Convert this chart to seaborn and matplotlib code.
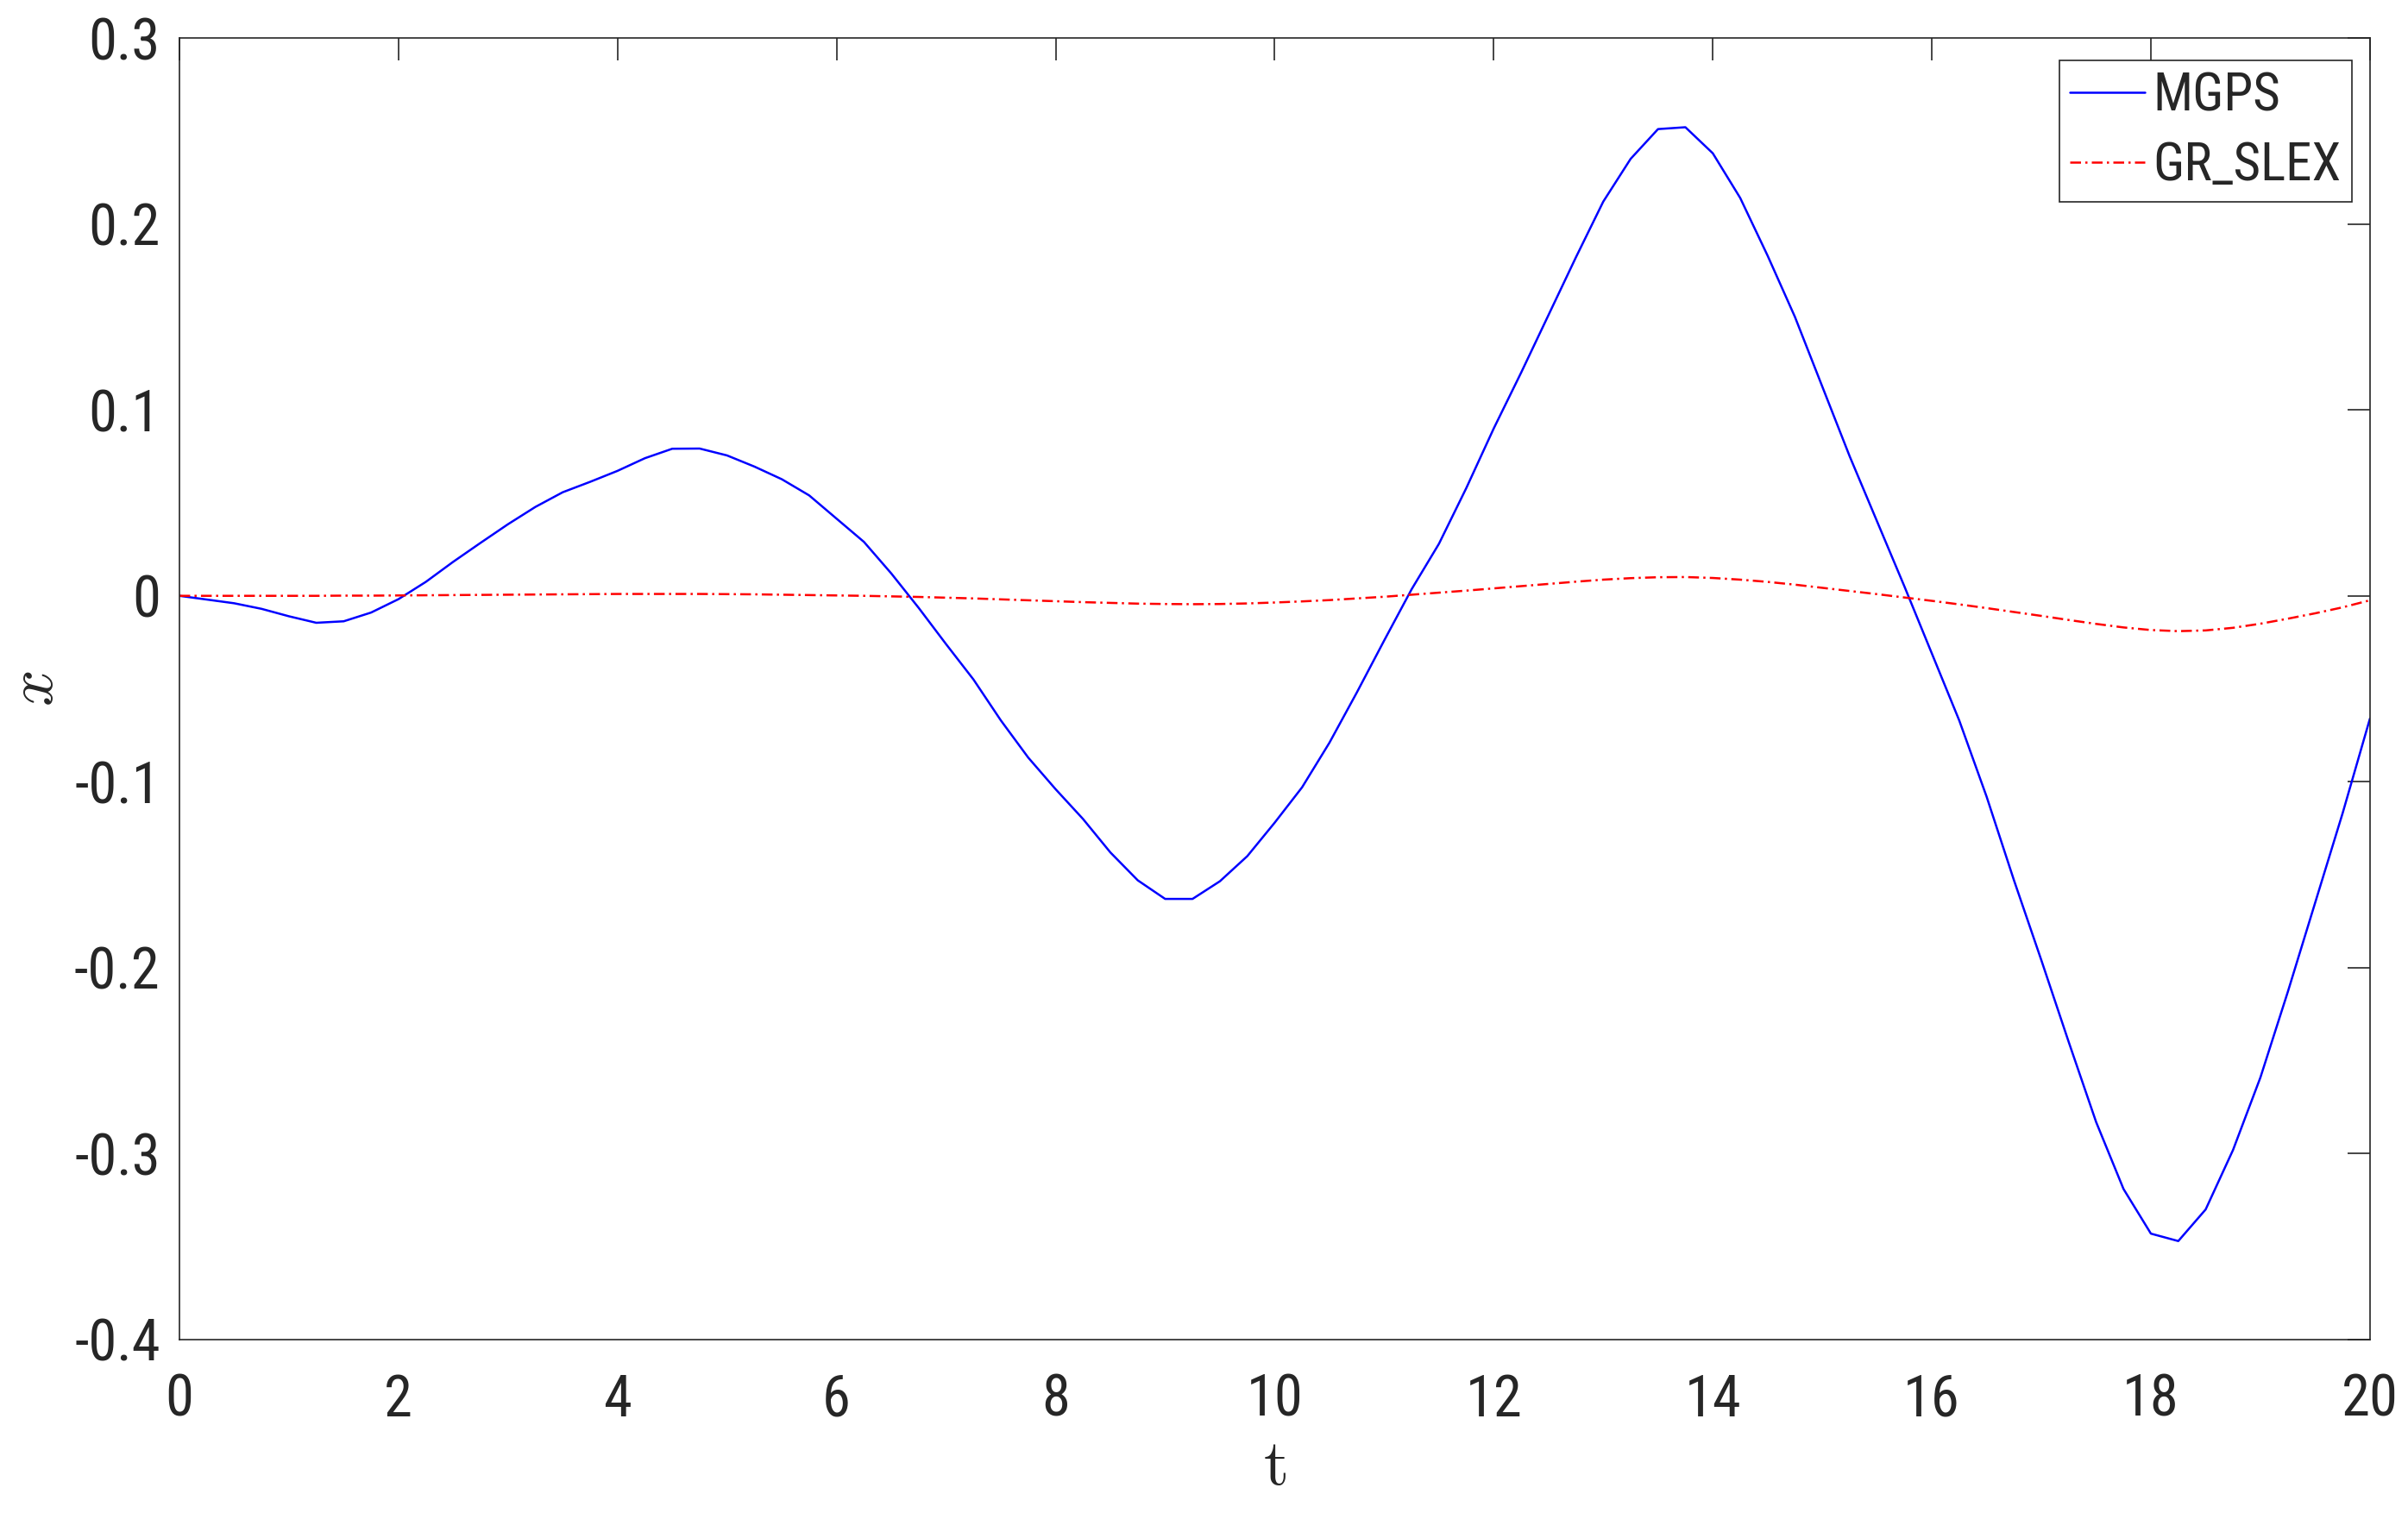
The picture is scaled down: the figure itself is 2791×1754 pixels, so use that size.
import numpy as np
import pandas as pd
import matplotlib
matplotlib.use("Agg")
import matplotlib.pyplot as plt
import seaborn as sns

# time samples (step 0.25)
t = [0.00, 0.25, 0.50, 0.75, 1.00, 1.25, 1.50, 1.75, 2.00, 2.25,
     2.50, 2.75, 3.00, 3.25, 3.50, 3.75, 4.00, 4.25, 4.50, 4.75,
     5.00, 5.25, 5.50, 5.75, 6.00, 6.25, 6.50, 6.75, 7.00, 7.25,
     7.50, 7.75, 8.00, 8.25, 8.50, 8.75, 9.00, 9.25, 9.50, 9.75,
     10.00, 10.25, 10.50, 10.75, 11.00, 11.25, 11.50, 11.75, 12.00, 12.25,
     12.50, 12.75, 13.00, 13.25, 13.50, 13.75, 14.00, 14.25, 14.50, 14.75,
     15.00, 15.25, 15.50, 15.75, 16.00, 16.25, 16.50, 16.75, 17.00, 17.25,
     17.50, 17.75, 18.00, 18.25, 18.50, 18.75, 19.00, 19.25, 19.50, 19.75,
     20.00]

mgps = [0.000, -0.002, -0.004, -0.007, -0.011, -0.0145, -0.0137, -0.009, -0.0018, 0.0075,
        0.0183, 0.0285, 0.0385, 0.0478, 0.0557, 0.0613, 0.0672, 0.0740, 0.0791, 0.0792,
        0.0755, 0.0695, 0.0627, 0.0540, 0.0415, 0.0290, 0.0120, -0.0065, -0.0260, -0.0450,
        -0.0670, -0.0870, -0.1040, -0.1200, -0.1380, -0.1530, -0.1630, -0.1630, -0.1535, -0.1400,
        -0.1220, -0.1030, -0.0790, -0.0520, -0.0240, 0.0035, 0.0280, 0.0580, 0.0900, 0.1200,
        0.1510, 0.1820, 0.2120, 0.2350, 0.2510, 0.2520, 0.2380, 0.2140, 0.1830, 0.1500,
        0.1125, 0.0750, 0.0400, 0.0050, -0.0310, -0.0670, -0.1080, -0.1530, -0.1960, -0.2400,
        -0.2830, -0.3190, -0.3430, -0.3470, -0.3300, -0.2980, -0.2590, -0.2130, -0.1650, -0.1170,
        -0.0660]

gr_slex = [0.0, 0.0, 0.0, 0.0, 0.0, 0.0, 0.0001, 0.0001, 0.0002, 0.0003,
           0.0004, 0.0005, 0.0006, 0.0007, 0.0008, 0.0009, 0.0010, 0.0010, 0.0010, 0.0010,
           0.0009, 0.0008, 0.0006, 0.0004, 0.0002, 0.0, -0.0003, -0.0006, -0.0010, -0.0014,
           -0.0019, -0.0024, -0.0029, -0.0034, -0.0038, -0.0042, -0.0044, -0.0045, -0.0044, -0.0041,
           -0.0036, -0.0030, -0.0023, -0.0014, -0.0005, 0.0006, 0.0017, 0.0028, 0.0040, 0.0052,
           0.0064, 0.0076, 0.0087, 0.0095, 0.0100, 0.0101, 0.0096, 0.0087, 0.0075, 0.0060,
           0.0043, 0.0026, 0.0009, -0.0009, -0.0027, -0.0046, -0.0066, -0.0087, -0.0108, -0.0130,
           -0.0151, -0.0170, -0.0184, -0.0190, -0.0186, -0.0172, -0.0150, -0.0123, -0.0094, -0.0062,
           -0.0024]

series_names = ["MGPS", "GR_SLEX"]
x_ticks = [0, 2, 4, 6, 8, 10, 12, 14, 16, 18, 20]
y_ticks = [-0.4, -0.3, -0.2, -0.1, 0, 0.1, 0.2, 0.3]
y_tick_labels = ["-0.4", "-0.3", "-0.2", "-0.1", "0", "0.1", "0.2", "0.3"]

df = pd.concat([
    pd.DataFrame({"t": t, "x": mgps, "method": series_names[0]}),
    pd.DataFrame({"t": t, "x": gr_slex, "method": series_names[1]}),
], ignore_index=True)

# ---- style ----
sns.set_theme(style="white")
plt.rcParams["font.family"] = ["Roboto Condensed", "Liberation Sans", "DejaVu Sans"]
plt.rcParams["mathtext.fontset"] = "cm"
axis_color = "#262626"

fig = plt.figure(figsize=(13.955, 8.77), dpi=200)
ax = fig.add_axes([0.0745, 0.1146, 0.9097, 0.8603])

sns.lineplot(data=df, x="t", y="x", hue="method", style="method",
             palette={"MGPS": "#0000FF", "GR_SLEX": "#FF0000"},
             dashes={"MGPS": "", "GR_SLEX": (5, 2, 1, 2)},
             linewidth=0.9, ax=ax, legend=True)

ax.set_xlim(0, 20)
ax.set_ylim(-0.4, 0.3)
ax.set_xticks(x_ticks)
ax.set_xticklabels([str(v) for v in x_ticks])
ax.set_yticks(y_ticks)
ax.set_yticklabels(y_tick_labels)

ax.tick_params(axis="both", which="major", direction="in", length=9.5, width=0.6,
               color=axis_color, labelcolor=axis_color, labelsize=24,
               top=True, right=True)
ax.tick_params(axis="x", pad=14)
ax.tick_params(axis="y", pad=8)
for spine in ax.spines.values():
    spine.set_visible(True)
    spine.set_color(axis_color)
    spine.set_linewidth(0.6)

ax.set_xlabel(r"$\mathrm{t}$", fontsize=27, color=axis_color)
ax.set_ylabel(r"$x$", fontsize=27, color=axis_color)
ax.xaxis.set_label_coords(0.5, -0.074)
ax.yaxis.set_label_coords(-0.052, 0.5)

handles, labels = ax.get_legend_handles_labels()
leg = ax.legend(handles, labels, loc="upper right", bbox_to_anchor=(0.9917, 0.9828),
                borderaxespad=0, fontsize=22, frameon=True, fancybox=False,
                framealpha=1, edgecolor=axis_color, handlelength=1.43,
                handletextpad=0.15, borderpad=0.2, labelspacing=0.38)
leg.get_frame().set_linewidth(0.6)
for line in leg.get_lines():
    line.set_linewidth(0.9)

fig.savefig("out.png", dpi=200, facecolor="white")
